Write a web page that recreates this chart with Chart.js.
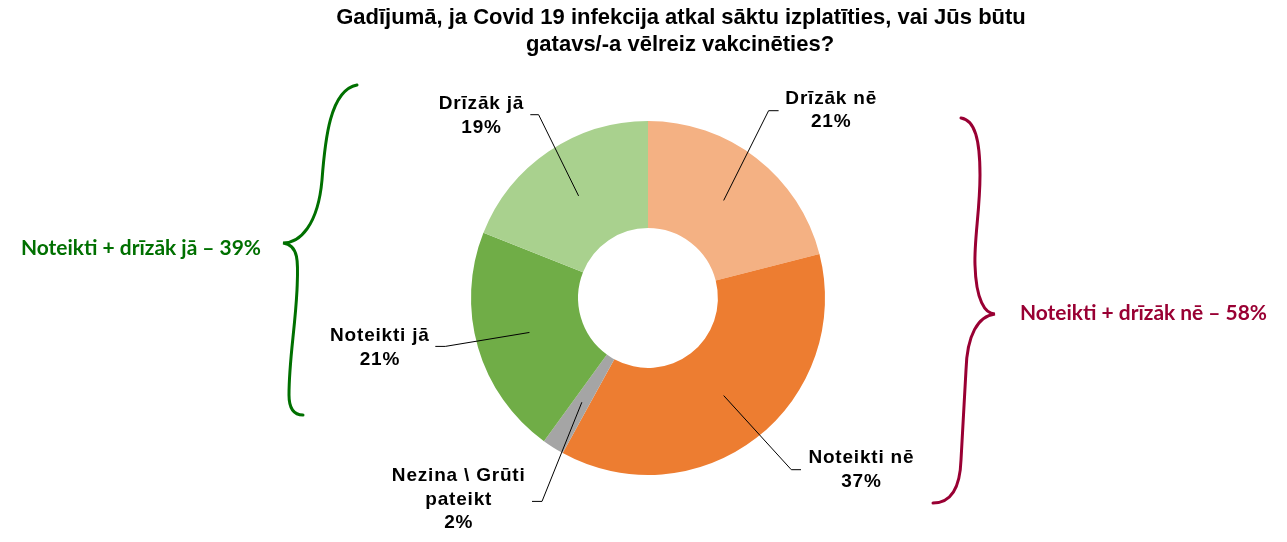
<!DOCTYPE html>
<html>
<head>
<meta charset="utf-8">
<script src="https://cdn.jsdelivr.net/npm/chart.js@4.4.1/dist/chart.umd.min.js"></script>
<style>
  html, body { margin: 0; padding: 0; background: #fff; }
  #wrap { position: relative; width: 1287px; height: 542px; }
</style>
</head>
<body>
<div id="wrap"><canvas id="c" width="1287" height="542"></canvas></div>
<script>
// ---- data ----
const titleLines = ['Gadījumā, ja Covid 19 infekcija atkal sāktu izplatīties, vai Jūs būtu', 'gatavs/-a vēlreiz vakcinēties?'];
const categories = [['Drīzāk nē'], ['Noteikti nē'], ['Nezina \\ Grūti', 'pateikt'], ['Noteikti jā'], ['Drīzāk jā']];
const values = [21, 37, 2, 21, 19];
const colors = ['#F4B183', '#ED7D31', '#A5A5A5', '#70AD47', '#A9D18E'];
const groupYes = 'Noteikti + drīzāk jā – 39%';
const groupNo = 'Noteikti + drīzāk nē – 58%';

// ---- layout of labels (offsets from the doughnut centre) ----
const labelLayout = [
  { elbow: [120.6, -187.3], end: [130.6, -187.3], text: [182.8, -199.3] },
  { elbow: [143.3, 171.7], end: [153.0, 171.7], text: [213.0, 160.2] },
  { elbow: [-106.0, 203.4], end: [-116.0, 203.4], text: [-189.7, 178.2] },
  { elbow: [-202.7, 48.4], end: [-212.7, 48.4], text: [-268.5, 38.2] },
  { elbow: [-109.4, -183.3], end: [-117.7, -183.3], text: [-166.9, -193.8] }
];

const decorPlugin = {
  id: 'decor',
  afterDatasetsDraw(chart) {
    const ctx = chart.ctx;
    const meta = chart.getDatasetMeta(0);
    ctx.save();
    // leader lines + labels
    meta.data.forEach((arc, i) => {
      const p = arc.getProps(['x', 'y', 'startAngle', 'endAngle', 'innerRadius', 'outerRadius'], true);
      const mid = (p.startAngle + p.endAngle) / 2;
      const r = (p.innerRadius + p.outerRadius) / 2;
      const sx = p.x + Math.cos(mid) * r, sy = p.y + Math.sin(mid) * r;
      const L = labelLayout[i];
      ctx.beginPath();
      ctx.strokeStyle = '#000';
      ctx.lineWidth = 1;
      ctx.moveTo(sx, sy);
      ctx.lineTo(p.x + L.elbow[0], p.y + L.elbow[1]);
      ctx.lineTo(p.x + L.end[0], p.y + L.end[1]);
      ctx.stroke();
      const lines = categories[i].concat([values[i] + '%']);
      ctx.fillStyle = '#000';
      ctx.font = 'bold 19px "Liberation Sans", Arial, sans-serif';
      ctx.letterSpacing = '0.8px';
      ctx.textAlign = 'center';
      ctx.textBaseline = 'middle';
      lines.forEach((t, k) => {
        ctx.fillText(t, p.x + L.text[0] + 0.4, p.y + L.text[1] + k * 23.5);
      });
    });
    ctx.letterSpacing = '0px';

    // title
    ctx.fillStyle = '#000';
    ctx.font = 'bold 22px "Liberation Sans", Arial, sans-serif';
    ctx.textAlign = 'center';
    ctx.textBaseline = 'middle';
    ctx.fillText(titleLines[0], 681, 18, 694);
    ctx.fillText(titleLines[1], 680, 45, 310);

    // braces
    ctx.lineWidth = 3;
    ctx.lineCap = 'round';
    ctx.strokeStyle = '#007000';
    ctx.beginPath();
    ctx.moveTo(357, 85);
    ctx.bezierCurveTo(330, 90, 325, 140, 322, 180);
    ctx.bezierCurveTo(318, 225, 300, 243, 283, 243);
    ctx.bezierCurveTo(300, 245, 298, 265, 297, 290);
    ctx.bezierCurveTo(295, 330, 289, 360, 289, 395);
    ctx.bezierCurveTo(289, 410, 295, 415, 303, 415);
    ctx.stroke();

    ctx.strokeStyle = '#990033';
    ctx.beginPath();
    ctx.moveTo(961, 118);
    ctx.bezierCurveTo(975, 120, 980, 140, 980, 175);
    ctx.bezierCurveTo(980, 210, 974, 240, 975, 265);
    ctx.bezierCurveTo(976, 300, 985, 314, 995, 314);
    ctx.bezierCurveTo(978, 316, 967, 335, 966, 370);
    ctx.bezierCurveTo(964, 410, 962, 440, 961, 460);
    ctx.bezierCurveTo(960, 490, 950, 503, 933, 503);
    ctx.stroke();

    // group texts
    ctx.font = 'bold 21px Lato, "Open Sans", sans-serif';
    ctx.textAlign = 'left';
    ctx.fillStyle = '#007000';
    ctx.fillText(groupYes, 21, 248, 240);
    ctx.fillStyle = '#990033';
    ctx.fillText(groupNo, 1020, 313, 247);
    ctx.restore();
  }
};

new Chart(document.getElementById('c'), {
  type: 'doughnut',
  data: {
    labels: categories,
    datasets: [{
      data: values,
      backgroundColor: colors,
      borderWidth: 0,
      hoverOffset: 0
    }]
  },
  options: {
    responsive: false,
    animation: false,
    cutout: '39.5%',
    layout: { padding: { top: 121, bottom: 67, left: 300, right: 291 } },
    plugins: {
      legend: { display: false },
      tooltip: { enabled: false },
      title: { display: false }
    }
  },
  plugins: [decorPlugin]
});
</script>
</body>
</html>
